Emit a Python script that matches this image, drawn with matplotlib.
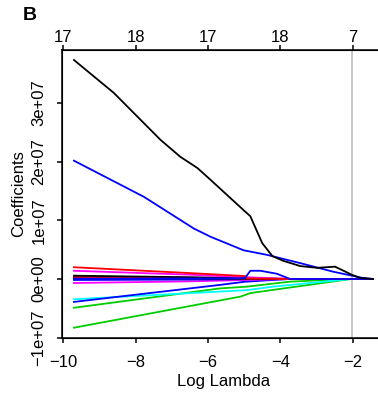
import numpy as np
import matplotlib
matplotlib.use('Agg')
import matplotlib.pyplot as plt

plt.rcParams['font.family'] = ['Liberation Sans', 'DejaVu Sans']

# coefficient paths (x = log lambda, y in units of 1e7)
black_big_x = [-9.70, -8.60, -7.31, -6.76, -6.29, -5.93, -5.02, -4.83, -4.50, -4.22,
               -3.92, -3.45, -2.98, -2.49, -2.02, -1.80, -1.44]
black_big_y = [3.73, 3.17, 2.37, 2.08, 1.89, 1.69, 1.175, 1.07, 0.61, 0.39,
               0.31, 0.22, 0.19, 0.21, 0.07, 0.02, 0.0]

blue_big_x = [-9.70, -7.77, -6.39, -5.93, -5.02, -4.36, -3.45, -2.54, -2.02, -1.72, -1.44]
blue_big_y = [2.015, 1.40, 0.86, 0.72, 0.49, 0.41, 0.27, 0.124, 0.056, 0.017, 0.0]

blue_bump_x = [-9.70, -5.20, -4.97, -4.83, -4.55, -4.10, -3.73, -1.44]
blue_bump_y = [0.005, 0.01, 0.02, 0.14, 0.14, 0.09, 0.0, 0.0]

red_x = [-9.70, -6.48, -4.97, -4.93, -3.73, -1.44]
red_y = [0.20, 0.10, 0.05, 0.01, 0.0, 0.0]

magenta_x = [-9.70, -6.48, -4.97, -3.60, -1.44]
magenta_y = [0.14, 0.073, 0.03, 0.0, 0.0]

black2_x = [-9.70, -6.48, -3.70, -1.44]
black2_y = [0.056, 0.03, 0.0, 0.0]

red2_x = [-9.70, -6.48, -3.70, -1.44]
red2_y = [0.034, 0.02, 0.0, 0.0]

black3_x = [-9.70, -6.48, -4.00, -1.44]
black3_y = [0.017, 0.01, 0.0, 0.0]

blue2_x = [-9.70, -6.48, -4.00, -1.44]
blue2_y = [0.0, 0.0, 0.0, 0.0]

blue3_x = [-9.70, -6.48, -4.00, -1.44]
blue3_y = [-0.017, -0.01, 0.0, 0.0]

green2_x = [-9.70, -6.48, -4.00, -1.44]
green2_y = [0.008, 0.004, 0.0, 0.0]

magenta2_x = [-9.70, -6.48, -3.80, -1.44]
magenta2_y = [-0.068, -0.04, 0.0, 0.0]

cyan_x = [-9.70, -4.92, -4.20, -2.05, -1.44]
cyan_y = [-0.345, -0.19, -0.13, 0.0, 0.0]

blue_low_x = [-9.70, -5.66, -4.97, -3.73, -1.44]
blue_low_y = [-0.39, -0.10, -0.046, 0.0, 0.0]

green_up_x = [-9.70, -5.66, -4.92, -3.73, -2.05, -1.44]
green_up_y = [-0.49, -0.16, -0.13, -0.045, 0.0, 0.0]

green_low_x = [-9.70, -5.10, -4.83, -2.05, -1.44]
green_low_y = [-0.83, -0.30, -0.24, 0.0, 0.0]

paths = [
    (green_low_x, green_low_y, '#00CD00'),
    (green_up_x, green_up_y, '#00CD00'),
    (cyan_x, cyan_y, 'cyan'),
    (blue_low_x, blue_low_y, 'blue'),
    (magenta2_x, magenta2_y, 'magenta'),
    (green2_x, green2_y, '#00CD00'),
    (blue3_x, blue3_y, 'blue'),
    (blue2_x, blue2_y, 'blue'),
    (black3_x, black3_y, 'black'),
    (red2_x, red2_y, 'red'),
    (black2_x, black2_y, 'black'),
    (magenta_x, magenta_y, 'magenta'),
    (red_x, red_y, 'red'),
    (blue_bump_x, blue_bump_y, 'blue'),
    (blue_big_x, blue_big_y, 'blue'),
    (black_big_x, black_big_y, 'black'),
]

best_log_lambda = -2.02

top_ticks = [-10, -8, -6, -4, -2]
top_labels = ['17', '18', '17', '18', '7']

y_ticks = [-1e7, 0, 1e7, 2e7, 3e7]
y_labels = ['\u22121e+07', '0e+00', '1e+07', '2e+07', '3e+07']

FS = 12


def main():
    fig = plt.figure(figsize=(3.78, 3.97), dpi=100)
    ax = fig.add_axes([62 / 378, 59 / 397, 323 / 378, 288 / 397])

    for xs, ys, col in paths:
        ax.plot(xs, np.array(ys) * 1e7, color=col, lw=1.3)

    ax.axvline(best_log_lambda, color='#BEBEBE', lw=1.2, zorder=0)

    ax.set_xlim(-10.03, -1.11)
    ax.set_ylim(-1.005e7, 3.9e7)

    ax.set_xticks(top_ticks)
    ax.set_xticklabels(['\u221210', '\u22128', '\u22126', '\u22124', '\u22122'])
    ax.set_yticks(y_ticks)
    ax.set_yticklabels(y_labels, rotation=90, va='center')
    ax.tick_params(axis='both', length=3.3, width=1.1, labelsize=FS)
    ax.tick_params(axis='x', pad=9)
    ax.tick_params(axis='y', pad=8)
    for s in ax.spines.values():
        s.set_linewidth(1.1)

    ax.set_xlabel('Log Lambda', fontsize=FS, labelpad=3)
    ax.set_ylabel('Coefficients', fontsize=FS, labelpad=4)

    top = ax.twiny()
    top.set_xlim(ax.get_xlim())
    top.set_xticks(top_ticks)
    top.set_xticklabels(top_labels)
    top.tick_params(axis='x', length=3.3, width=1.1, labelsize=FS, pad=0.5)

    fig.text(23 / 378, 1 - 15 / 397, 'B', fontsize=14, fontweight='bold',
             va='center', ha='left')

    fig.savefig('out.png', dpi=100)


if __name__ == '__main__':
    main()
